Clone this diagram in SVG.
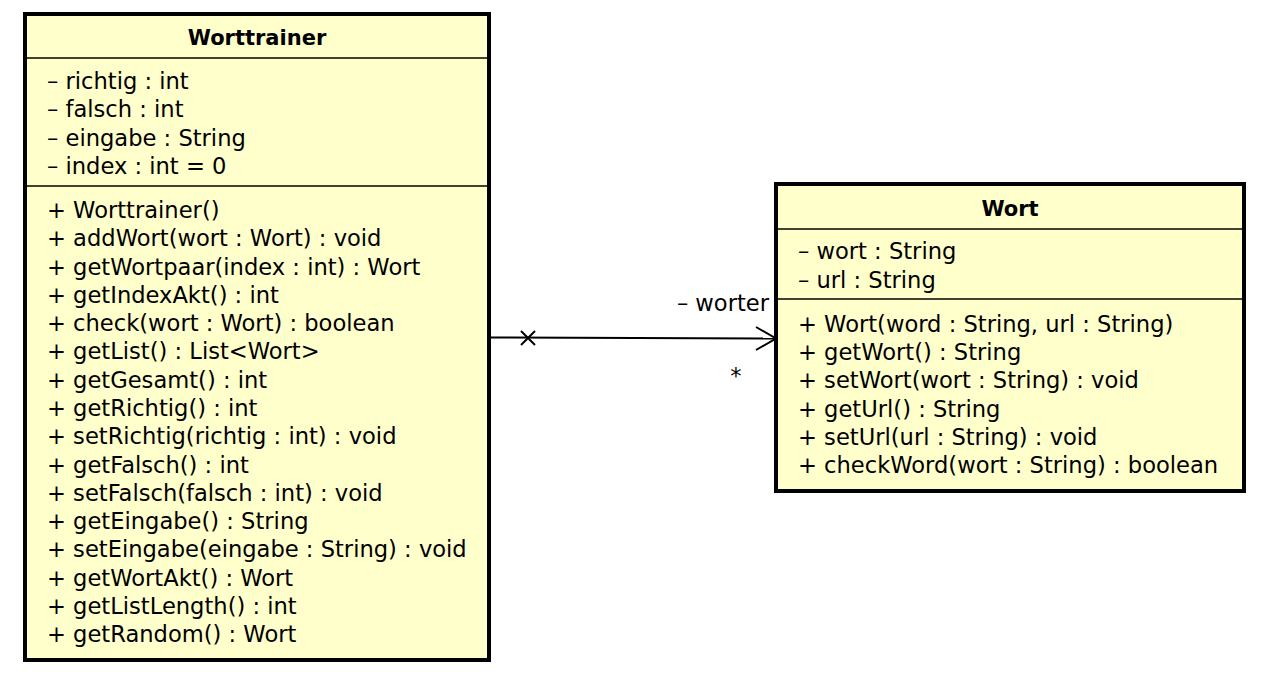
<svg xmlns="http://www.w3.org/2000/svg" width="1268" height="682" viewBox="0 0 1268 682">
<style>
.box{fill:#ffffcc;stroke:#000;stroke-width:4}
.sep{stroke:#000;stroke-width:1.5}
text{font-family:"DejaVu Sans","Liberation Sans",sans-serif;font-size:22.6px;fill:#000}
.title{font-weight:bold;text-anchor:middle;font-size:21px}
.conn{stroke:#000;stroke-width:2;fill:none}
</style>
<rect x="0" y="0" width="1268" height="682" fill="#fff"/>
<g id="Worttrainer">
<rect class="box" x="25" y="14" width="464" height="646"/>
<line class="sep" x1="25" y1="58" x2="489" y2="58"/>
<line class="sep" x1="25" y1="186" x2="489" y2="186"/>
<text class="title" x="257" y="45">Worttrainer</text>
<text x="47" y="89">– richtig : int</text>
<text x="47" y="117">– falsch : int</text>
<text x="47" y="146">– eingabe : String</text>
<text x="47" y="174">– index : int = 0</text>
<text x="47" y="218">+ Worttrainer()</text>
<text x="47" y="246">+ addWort(wort : Wort) : void</text>
<text x="47" y="275">+ getWortpaar(index : int) : Wort</text>
<text x="47" y="303">+ getIndexAkt() : int</text>
<text x="47" y="331">+ check(wort : Wort) : boolean</text>
<text x="47" y="359">+ getList() : List&lt;Wort&gt;</text>
<text x="47" y="388">+ getGesamt() : int</text>
<text x="47" y="416">+ getRichtig() : int</text>
<text x="47" y="444">+ setRichtig(richtig : int) : void</text>
<text x="47" y="473">+ getFalsch() : int</text>
<text x="47" y="501">+ setFalsch(falsch : int) : void</text>
<text x="47" y="529">+ getEingabe() : String</text>
<text x="47" y="557">+ setEingabe(eingabe : String) : void</text>
<text x="47" y="586">+ getWortAkt() : Wort</text>
<text x="47" y="614">+ getListLength() : int</text>
<text x="47" y="642">+ getRandom() : Wort</text>
</g>
<g id="Wort">
<rect class="box" x="776" y="184" width="468" height="307"/>
<line class="sep" x1="776" y1="229" x2="1244" y2="229"/>
<line class="sep" x1="776" y1="299" x2="1244" y2="299"/>
<text class="title" x="1010" y="216">Wort</text>
<text x="798" y="259">– wort : String</text>
<text x="798" y="288">– url : String</text>
<text x="798" y="332">+ Wort(word : String, url : String)</text>
<text x="798" y="360">+ getWort() : String</text>
<text x="798" y="388">+ setWort(wort : String) : void</text>
<text x="798" y="417">+ getUrl() : String</text>
<text x="798" y="445">+ setUrl(url : String) : void</text>
<text x="798" y="473">+ checkWord(wort : String) : boolean</text>
</g>
<g id="connectors">
<line class="conn" x1="489" y1="337.5" x2="776" y2="338.5"/>
<path class="conn" d="M521,331 L535,345 M521,345 L535,331"/>
<path class="conn" d="M756,327 L776,338.5 L756,350"/>
<text x="769" y="311" text-anchor="end">– worter</text>
<text x="736" y="384" text-anchor="middle" font-size="24">*</text>
</g>
</svg>
